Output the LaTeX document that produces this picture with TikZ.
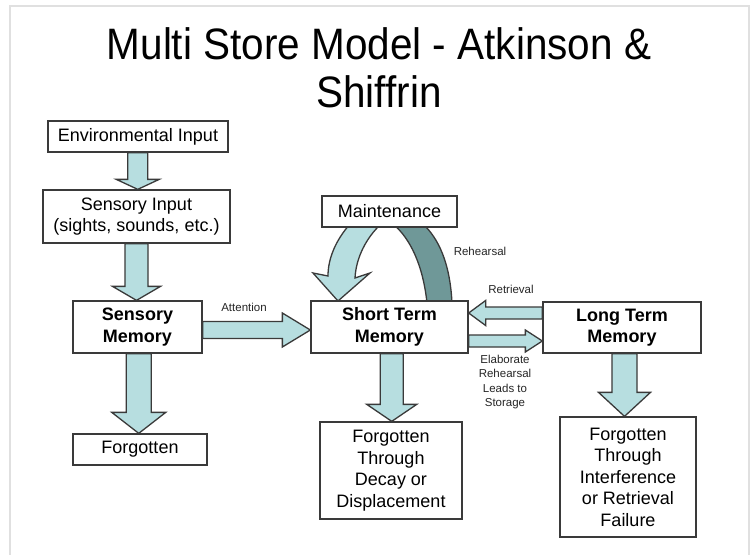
\documentclass[tikz,border=0pt]{standalone}
\usepackage{fontspec}
\setmainfont{Liberation Sans}
\newfontfamily\titlefont[FakeStretch=0.92]{Liberation Sans}
\usetikzlibrary{calc,backgrounds}
\definecolor{lblue}{HTML}{B7DEE0}
\definecolor{dband}{HTML}{6F9898}
\definecolor{edgec}{HTML}{3A3A3A}
\definecolor{framec}{HTML}{E0E0E0}
\tikzset{
  box/.style={draw=edgec, line width=1.3pt, fill=white, inner sep=0pt, align=center,
    font=\fontsize{18}{21.5}\selectfont},
  boldbox/.style={box, font=\fontsize{18}{21.5}\selectfont\bfseries},
  blk/.style={draw=edgec, line width=1.3pt, fill=lblue, line join=miter},
  darkblk/.style={draw=edgec, line width=1.3pt, fill=dband},
  lbl/.style={font=\fontsize{11.5}{14.5}\selectfont, inner sep=0pt, align=center, text=black!85},
  titletext/.style={font=\titlefont\fontsize{44}{48}\selectfont, inner sep=0pt},
}
% down block arrow: #1 from, #2 to, #3 shaft half, #4 head half, #5 head length, #6 x offset
\newcommand\blkdown[6]{%
  \path[blk] let \p1=(#1.south), \p2=(#2.north), \p3=($(\p1)!.5!(\p2)+(#6,0)$) in
    (\x3-#3,\y1) -- (\x3-#3,\y2+#5) -- (\x3-#4,\y2+#5) -- (\x3,\y2)
    -- (\x3+#4,\y2+#5) -- (\x3+#3,\y2+#5) -- (\x3+#3,\y1) -- cycle;}
% right block arrow: #1 from, #2 to, #3 shaft half, #4 head half, #5 head length, #6 y offset
\newcommand\blkright[6]{%
  \path[blk] let \p1=(#1.east), \p2=(#2.west) in
    (\x1,\y1+#6+#3) -- (\x2-#5,\y1+#6+#3) -- (\x2-#5,\y1+#6+#4) -- (\x2,\y1+#6)
    -- (\x2-#5,\y1+#6-#4) -- (\x2-#5,\y1+#6-#3) -- (\x1,\y1+#6-#3) -- cycle;}
% left block arrow: #1 from (right node), #2 to (left node)
\newcommand\blkleft[6]{%
  \path[blk] let \p1=(#1.west), \p2=(#2.east) in
    (\x1,\y1+#6+#3) -- (\x2+#5,\y1+#6+#3) -- (\x2+#5,\y1+#6+#4) -- (\x2,\y1+#6)
    -- (\x2+#5,\y1+#6-#4) -- (\x2+#5,\y1+#6-#3) -- (\x1,\y1+#6-#3) -- cycle;}

\begin{document}
\begin{tikzpicture}[x=1pt,y=-1pt]
\useasboundingbox (0,0) rectangle (752,555);

% title
\node[titletext] (t1) at (379,44) {Multi Store Model - Atkinson \&};
\node[titletext] (t2) at (379,92) {Shiffrin};

% boxes
\node[box, minimum width=180pt, minimum height=31pt] (env) at (138,136.5) {Environmental Input};
\node[box, minimum width=187pt, minimum height=53pt] (sin) at (136.5,216.5) {Sensory Input\\(sights, sounds, etc.)};
\node[boldbox, minimum width=129pt, minimum height=52pt] (sm) at (137.5,327) {Sensory\\Memory};
\node[box, minimum width=134pt, minimum height=31pt] (fg1) at (140,449.5) {Forgotten};
\node[box, minimum width=135pt, minimum height=31pt] (maint) at (389.5,211.5) {Maintenance};
\node[boldbox, minimum width=157pt, minimum height=52pt] (stm) at (389.5,327) {Short Term\\Memory};
\node[boldbox, minimum width=158pt, minimum height=51pt] (ltm) at (622,327.5) {Long Term\\Memory};
\node[box, minimum width=142pt, minimum height=97pt] (fg2) at (391,470.5) {Forgotten\\Through\\Decay or\\Displacement};
\node[box, minimum width=136pt, minimum height=120pt] (fg3) at (628,477) {Forgotten\\Through\\Interference\\or Retrieval\\Failure};

% labels
\node[lbl] (latt) at (244,307) {Attention};
\node[lbl] (lreh) at (480,251) {Rehearsal};
\node[lbl] (lret) at (511,289) {Retrieval};
\node[lbl] (lela) at (505,382) {Elaborate\\Rehearsal\\Leads to\\Storage};

\begin{scope}[on background layer]
  \fill[white] (0,0) rectangle (752,555);
  \draw[framec, line width=2pt] (10,555) -- (10,6) -- (749,6) -- (749,555);
  % maintenance rehearsal loop
  \path[darkblk] (393,224) .. controls (410,238) and (423,265) .. (427,303)
     -- (452,303) .. controls (450,262) and (438,238) .. (423,224) -- cycle;
  \path[blk] (350,224) .. controls (336,240) and (328,258) .. (328,276)
     -- (313,273) -- (338,301) -- (370,273) -- (355,278)
     .. controls (356,258) and (366,238) .. (381,224) -- cycle;
  % block arrows
  \blkdown{env}{sin}{10pt}{21.5pt}{10pt}{0.5}
  \blkdown{sin}{sm}{11.5pt}{24pt}{14pt}{-0.5}
  \blkdown{sm}{fg1}{12.5pt}{27pt}{21pt}{0}
  \blkdown{stm}{fg2}{11.5pt}{25pt}{17pt}{1.5}
  \blkdown{ltm}{fg3}{12.5pt}{26pt}{24pt}{-0.5}
  \blkright{sm}{stm}{8.5pt}{17pt}{28pt}{-3pt}
  \blkleft{ltm}{stm}{6pt}{12.5pt}{17pt}{14.5pt}
  \blkright{stm}{ltm}{6pt}{11pt}{17pt}{-14pt}
\end{scope}
\end{tikzpicture}
\end{document}
